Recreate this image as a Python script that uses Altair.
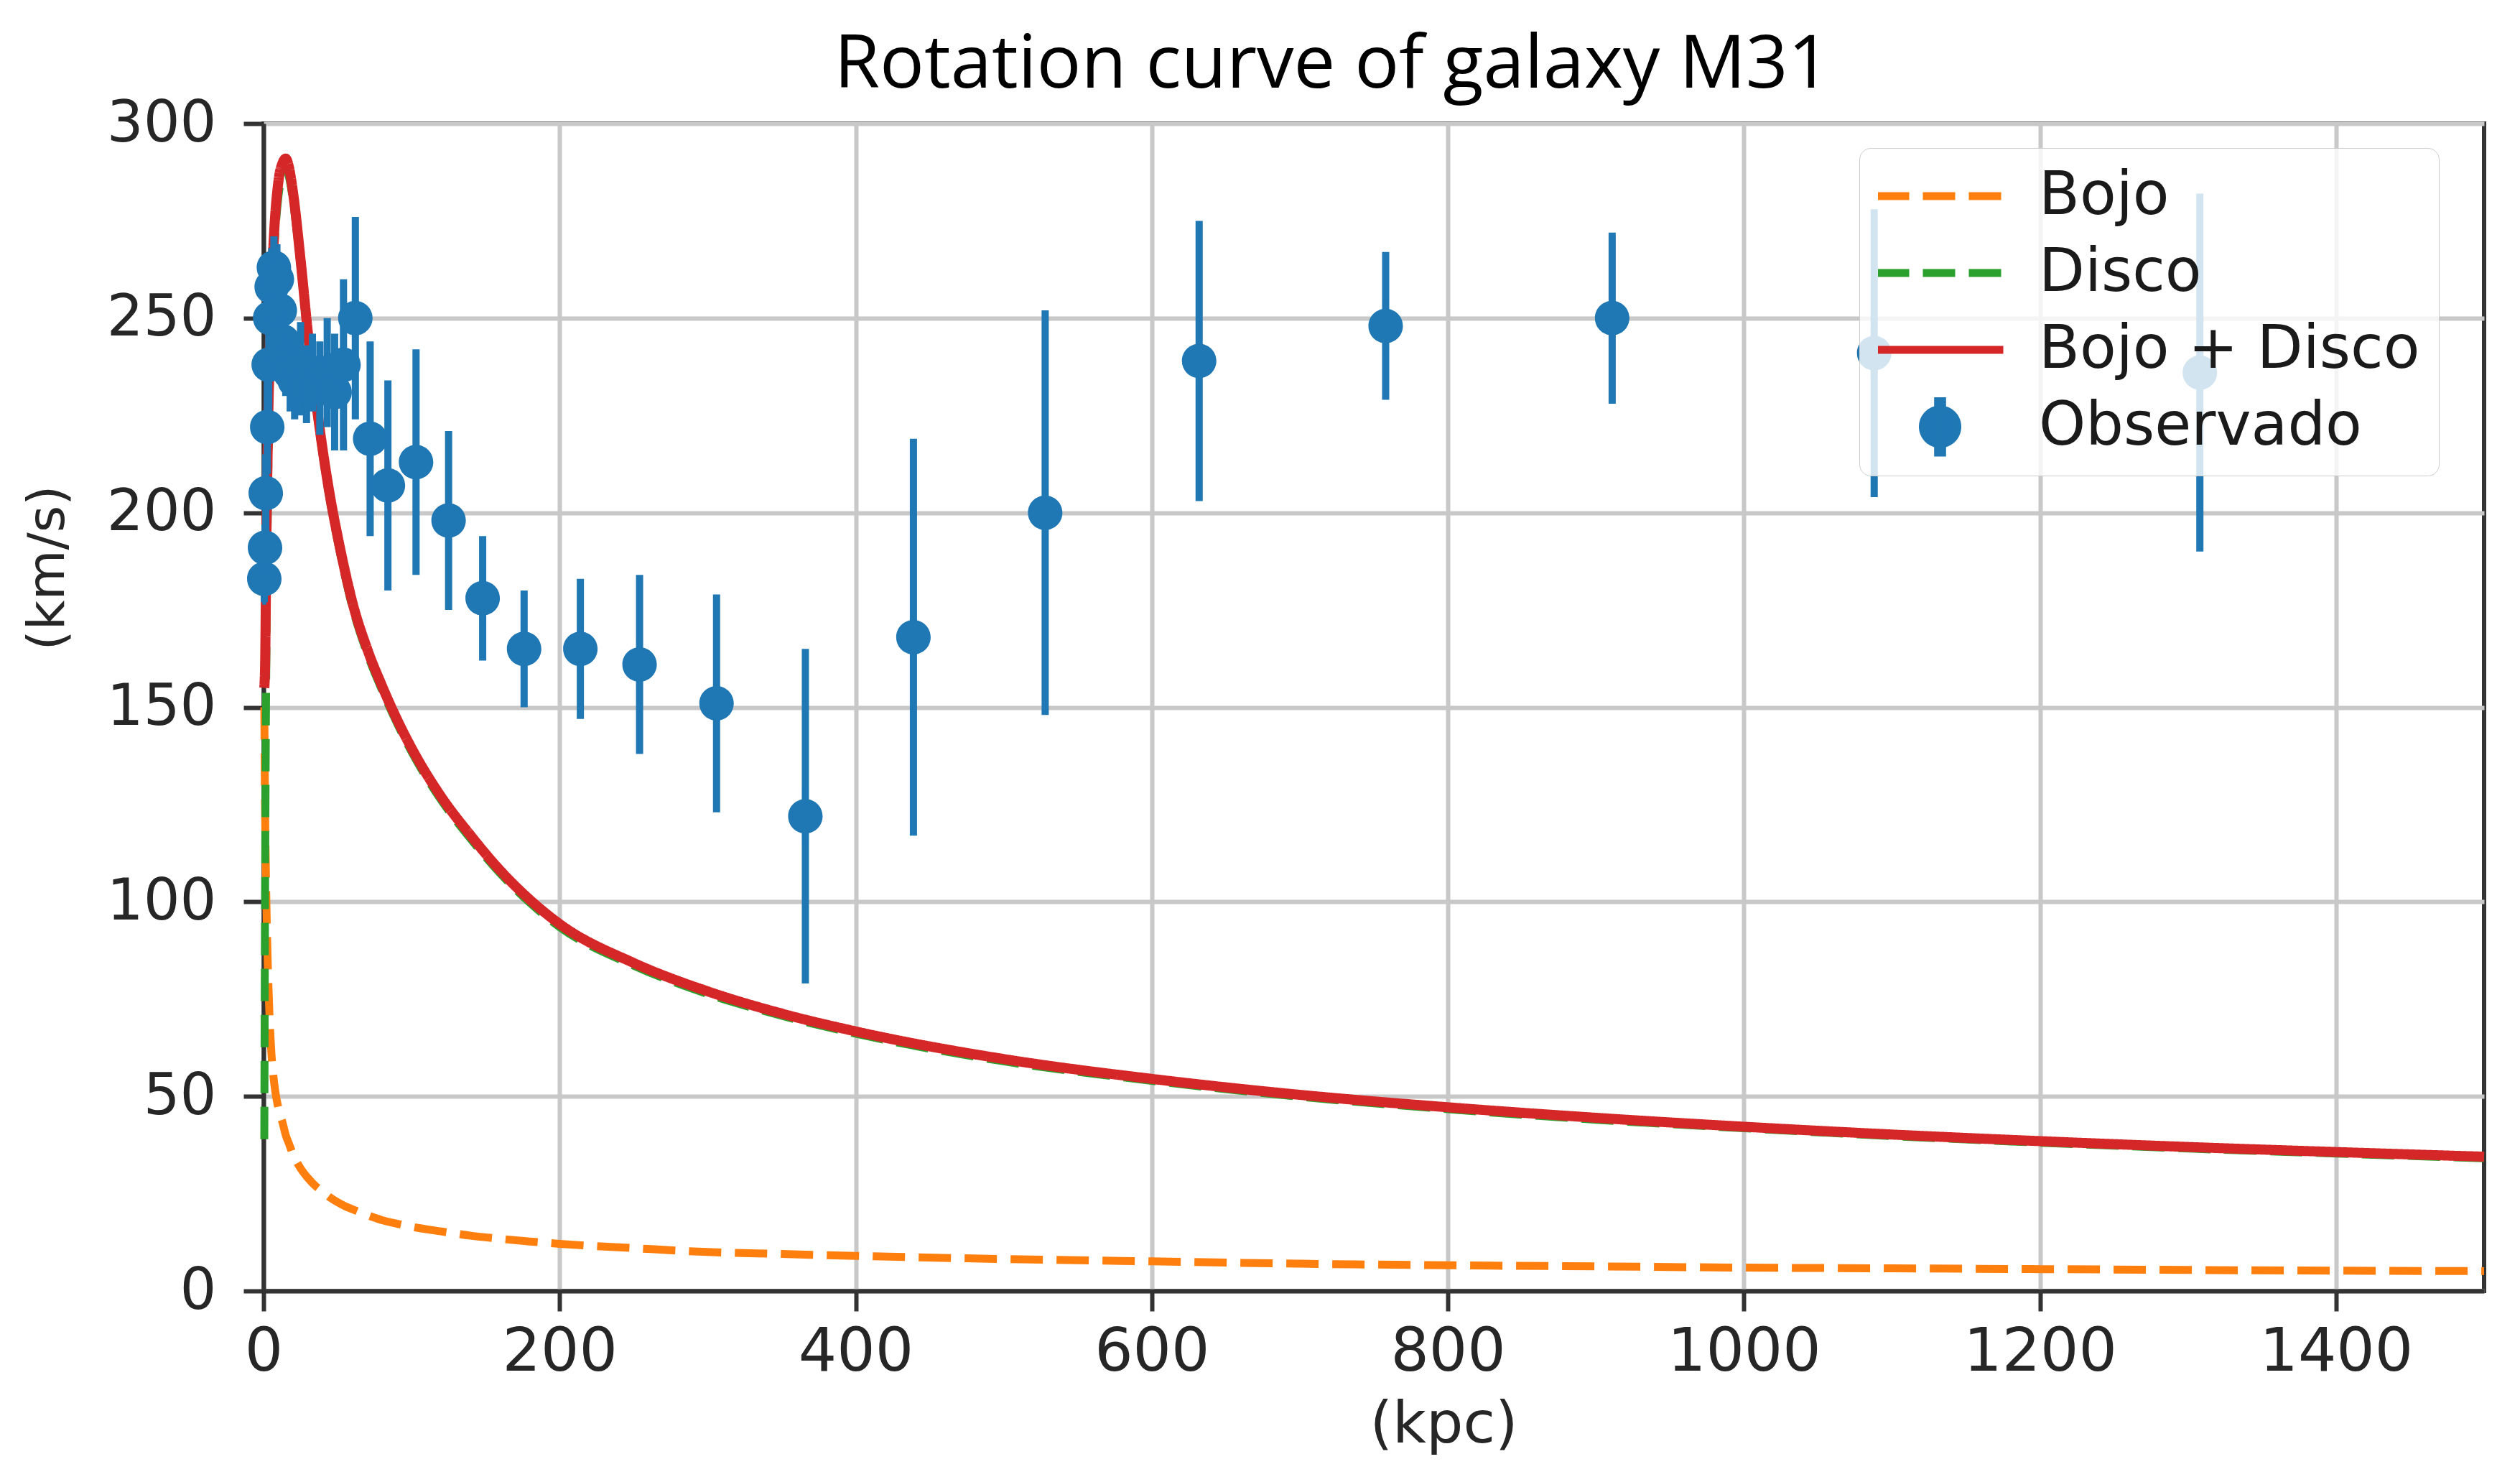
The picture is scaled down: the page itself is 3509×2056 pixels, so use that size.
import altair as alt
import pandas as pd

# model curves (kpc, km/s)
R_MODEL = [0.5, 1, 2, 3, 5, 7, 10, 13, 15, 17, 20, 25, 30, 35, 40, 45, 50, 55, 60, 70, 80, 90,
           100, 120, 140, 160, 180, 200, 250, 300, 350, 400, 500, 600, 700, 800, 900, 1000,
           1100, 1200, 1300, 1400, 1500]
BOJO = [150, 125, 98, 82, 63, 54, 47, 43, 40, 38, 35, 31.5, 29, 27, 25.5, 24, 22.8, 21.8, 21,
        19.5, 18.2, 17.3, 16.5, 15.3, 14.2, 13.4, 12.7, 12.1, 11, 10, 9.5, 9, 8.2, 7.6, 7,
        6.6, 6.3, 6, 5.8, 5.6, 5.4, 5.2, 5.1]
DISCO = [39, 100, 169.7, 205.2, 245, 265.6, 281.1, 286.8, 288.2, 286.5, 279.8, 263.1, 244.3,
         228.4, 214.5, 202.6, 192.7, 183.7, 175.7, 163.8, 154.4, 146, 138.5, 126.1, 116.1, 107.2,
         99.7, 93.5, 83.6, 76.3, 70.7, 66.1, 59, 54, 49.9, 46.7, 44, 41.8, 39.8, 38.1, 36.6,
         35.3, 34.1]
BOJO_DISCO = [155, 160, 196, 221, 253, 271, 285, 290, 291, 289, 282, 265, 246, 230, 216, 204,
              194, 185, 177, 165, 155.5, 147, 139.5, 127, 117, 108, 100.5, 94.3, 84.3, 77, 71.3,
              66.7, 59.6, 54.5, 50.4, 47.2, 44.5, 42.2, 40.2, 38.5, 37, 35.7, 34.5]

# observed points with symmetric error bars
R_OBS = [0.5, 1.0, 1.5, 2.5, 3.5, 4.5, 5.5, 7, 9, 11, 13, 15, 18, 21, 25, 29, 33, 38, 43, 48,
         54, 62, 72, 84, 103, 125, 148, 176, 214, 254, 306, 366, 439, 528, 632, 758, 911,
         1088, 1308]
V_OBS = [183, 191, 205, 222, 238, 250, 258, 263, 260, 252, 244, 238, 236, 234, 237, 233, 236,
         232, 236, 231, 238, 250, 219, 207, 213, 198, 178, 165, 165, 161, 151, 122, 168, 200,
         239, 248, 250, 241, 236]
ERR_OBS = [6, 6, 10, 12, 15, 14, 10, 8, 9, 10, 10, 8, 10, 10, 12, 10, 10, 12, 14, 15, 22, 26,
           25, 27, 29, 23, 16, 15, 18, 23, 28, 43, 51, 52, 36, 19, 22, 37, 46]

SERIES = ["Bojo", "Disco", "Bojo + Disco", "Observado"]
COLORS = ["#ff7f0e", "#2ca02c", "#d62728", "#1f77b4"]
DASHES = [[45, 19], [45, 19], [1, 0], [1, 0]]
LINE_PATH = "M-2.2,0H2.2"
DOT_PATH = "M-0.6,0A0.6,0.6 0 1,1 0.6,0A0.6,0.6 0 1,1 -0.6,0Z M-0.07,-0.9H0.07V0.9H-0.07Z"
SHAPES = [LINE_PATH, LINE_PATH, LINE_PATH, DOT_PATH]

X_TICKS = [0, 200, 400, 600, 800, 1000, 1200, 1400]
Y_TICKS = [0, 50, 100, 150, 200, 250, 300]


def curve(values, name):
    return pd.DataFrame({"r": R_MODEL, "v": values, "serie": name})


obs = pd.DataFrame({
    "r": R_OBS,
    "v": V_OBS,
    "lo": [v - e for v, e in zip(V_OBS, ERR_OBS)],
    "hi": [v + e for v, e in zip(V_OBS, ERR_OBS)],
    "serie": "Observado",
})

x_axis = alt.Axis(values=X_TICKS, title="(kpc)", format="d", labelFlush=False, labelLimit=400)
y_axis = alt.Axis(values=Y_TICKS, title="(km/s)", format="d", labelLimit=400)
x_scale = alt.Scale(domain=[0, 1500], nice=False)
y_scale = alt.Scale(domain=[0, 300], nice=False)

x_enc = alt.X("r:Q", title="(kpc)", scale=x_scale, axis=x_axis)
y_enc = alt.Y("v:Q", title="(km/s)", scale=y_scale, axis=y_axis)
color = alt.Color("serie:N", title=None, scale=alt.Scale(domain=SERIES, range=COLORS))
dash = alt.StrokeDash("serie:N", title=None, scale=alt.Scale(domain=SERIES, range=DASHES))
shape = alt.Shape("serie:N", title=None, scale=alt.Scale(domain=SERIES, range=SHAPES))


def line_layer(values, name, width):
    return (
        alt.Chart(curve(values, name))
        .mark_line(strokeWidth=width, interpolate="monotone")
        .encode(x=x_enc, y=y_enc, color=color, strokeDash=dash)
    )


errbars = (
    alt.Chart(obs)
    .mark_rule(color="#1f77b4", strokeWidth=10)
    .encode(x=x_enc, y=alt.Y("lo:Q", title="(km/s)", scale=y_scale, axis=y_axis), y2="hi:Q")
)

points = (
    alt.Chart(obs)
    .mark_point(filled=True, opacity=1, size=6400)
    .encode(x=x_enc, y=y_enc, color=color, shape=shape)
)

chart = (
    alt.layer(
        line_layer(BOJO, "Bojo", 11),
        line_layer(DISCO, "Disco", 11),
        line_layer(BOJO_DISCO, "Bojo + Disco", 14),
        errbars,
        points,
    )
    .properties(
        width=3092,
        height=1625,
        autosize=alt.AutoSizeParams(type="none"),
        padding={"left": 359, "top": 164, "right": 40, "bottom": 240},
        title=alt.TitleParams(
            "Rotation curve of galaxy M31",
            font="Open Sans",
            fontSize=103,
            fontWeight="normal",
            color="#000000",
            anchor="middle",
            frame="group",
            baseline="alphabetic",
            offset=45,
            dx=-58,
            dy=138,
        ),
    )
    .configure_axis(
        labelFont="DejaVu Sans",
        labelFontSize=80,
        labelColor="#262626",
        titleFont="DejaVu Sans",
        titleFontWeight="normal",
        titleColor="#262626",
        grid=True,
        gridColor="#c8c8c8",
        gridWidth=6,
        tickColor="#333333",
        tickWidth=6,
        tickSize=28,
        domainColor="#333333",
        domainWidth=6,
    )
    .configure_axisX(labelPadding=16, labelFontSize=84, titleFontSize=81, titleX=1643,
                     titleY=186, titleBaseline="middle", titleAlign="center")
    .configure_axisY(labelPadding=38, titleFontSize=72, titleX=-301, titleY=618,
                     titleAngle=270, titleBaseline="middle", titleAlign="center")
    .configure_legend(
        orient="none",
        legendX=2222,
        legendY=34,
        padding=26,
        rowPadding=24,
        clipHeight=82,
        fillColor="rgba(255,255,255,0.8)",
        strokeColor="#cccccc",
        cornerRadius=16,
        labelFont="DejaVu Sans",
        labelFontSize=83,
        labelColor="#1a1a1a",
        labelLimit=900,
        labelOffset=92,
        symbolOffset=41,
        symbolSize=6400,
        symbolStrokeWidth=11,
    )
    .configure_view(stroke="#333333", strokeWidth=6)
)

chart.save("out.html", embed_options={"renderer": "svg", "actions": False})
